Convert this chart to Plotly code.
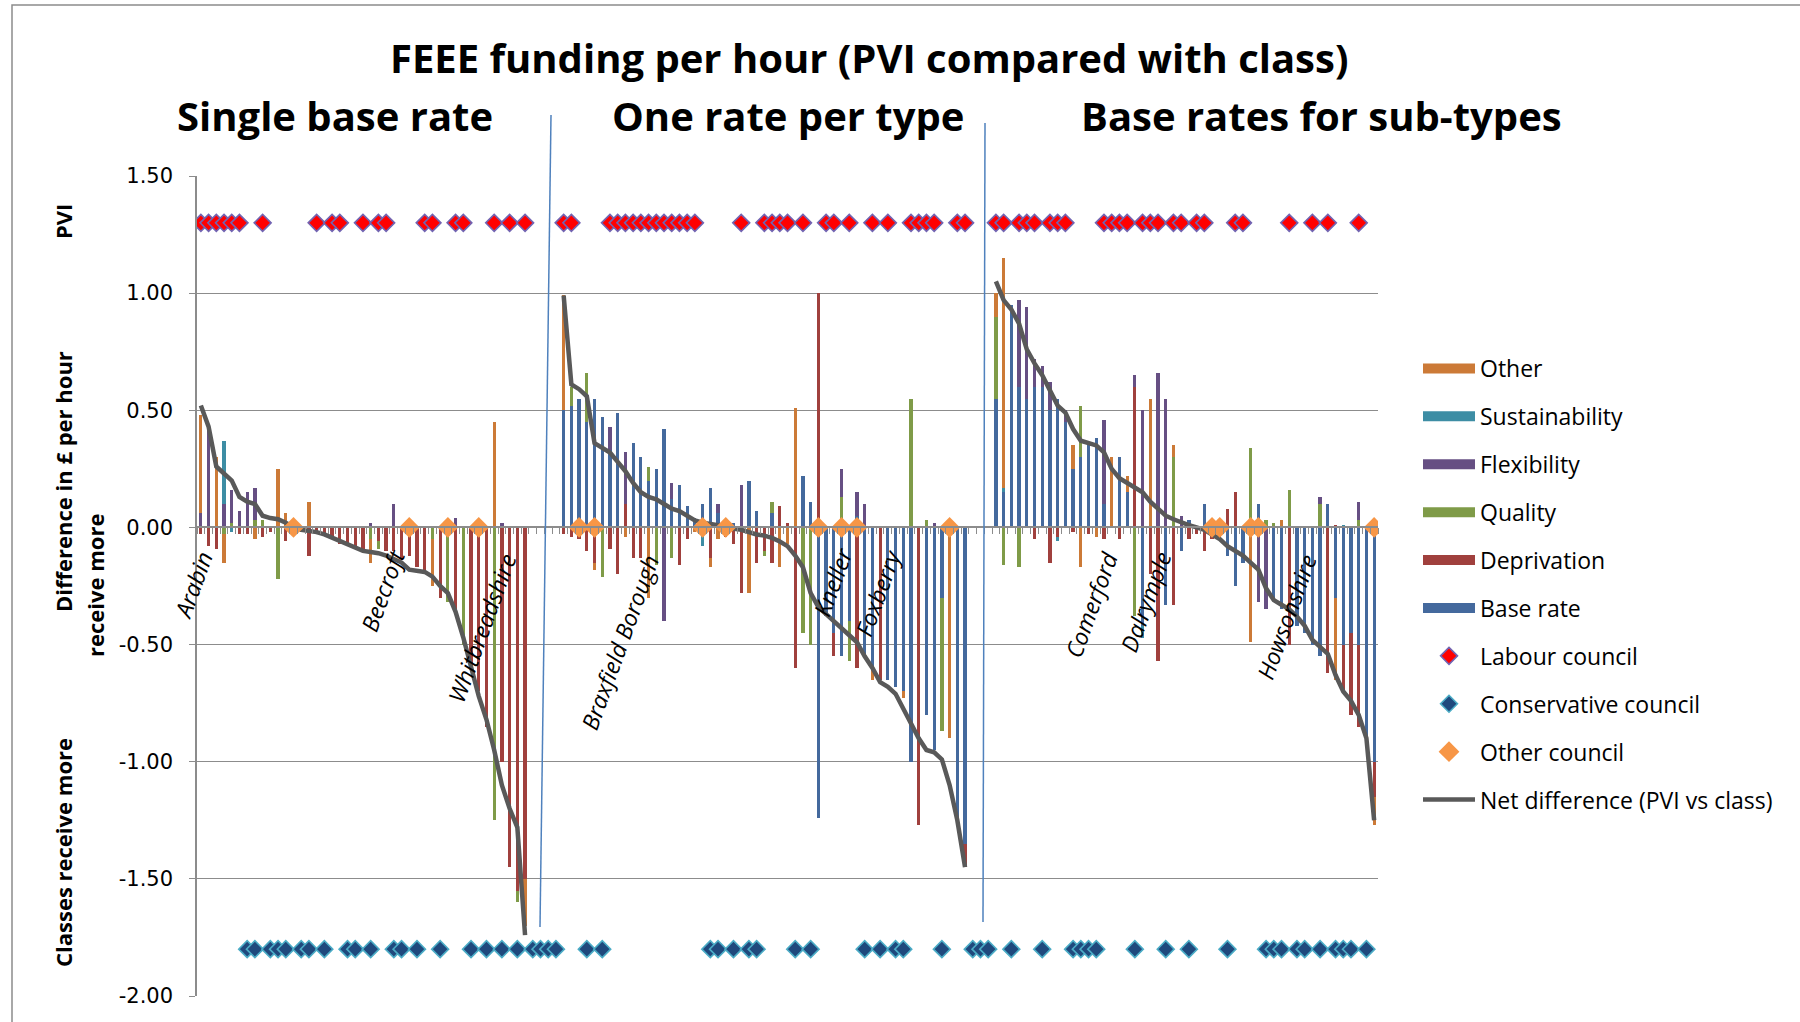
import plotly.graph_objects as go

# ---------------- data ----------------
# Panel 1: "Single base rate" (43 councils), Panel 2: "One rate per type" (53), Panel 3: "Base rates for sub-types" (50)
GAP1 = 4
GAP2 = 3

P1_BASE = [0.0] * 43
P1_DEP = [-.03, -.08, -.09, 0, 0, -.03, -.03, 0, -.04, -.02,
          0, -.06, -.01, -.02, -.12, -.03, -.03, -.05, -.07, -.08,
          -.08, -.10, 0, -.06, -.10, -.10, -.13, -.12, -.17, -.19,
          0, -.30, 0, -.35, 0, -.60, -.70, -.85, 0, -1.00,
          -1.45, -1.55, -1.50]
P1_QUAL = [0, 0, 0, -.03, .02, 0, 0, .03, .03, 0,
           -.22, 0, 0, 0, 0, 0, 0, 0, 0, 0,
           0, 0, -.05, -.03, 0, 0, 0, 0, 0, 0,
           -.05, 0, -.32, 0, -.50, 0, 0, 0, -1.25, 0,
           0, -.05, 0]
P1_FLEX = [.06, .43, 0, .10, .14, .07, .15, .14, 0, 0,
           0, 0, 0, 0, 0, 0, 0, 0, 0, 0,
           0, 0, .02, 0, 0, .10, 0, 0, 0, 0,
           0, 0, 0, .04, 0, 0, 0, 0, 0, .02,
           0, 0, 0]
P1_SUST = [0, 0, 0, .27, -.02, 0, 0, 0, 0, 0,
           0, 0, 0, 0, 0, 0, 0, 0, 0, 0,
           0, 0, 0, 0, 0, 0, 0, 0, 0, 0,
           0, 0, 0, 0, 0, 0, 0, 0, 0, 0,
           0, 0, 0]
P1_OTHER = [.42, 0, .30, -.12, 0, 0, 0, -.05, 0, 0,
            .25, .06, 0, 0, .11, 0, 0, 0, 0, 0,
            0, 0, -.10, 0, 0, 0, 0, 0, 0, 0,
            -.20, 0, 0, 0, 0, 0, 0, 0, .45, 0,
            0, 0, -.20]
P1_NET = [.52, .43, .26, .23, .20, .13, .11, .10, .05, .04,
          .035, .02, 0, -.01, -.015, -.02, -.03, -.045, -.055, -.07,
          -.09, -.10, -.105, -.11, -.12, -.135, -.15, -.18, -.185, -.19,
          -.21, -.25, -.28, -.36, -.47, -.60, -.72, -.82, -.95, -1.10,
          -1.20, -1.28, -1.74]

P2_BASE = [.50, .52, .55, .45, .55, .47, .33, .49, 0, .36,
           .30, .20, .25, .42, .12, .18, .09, .04, .10, .17,
           .06, .03, .02, 0, .20, .07, 0, .06, 0, 0,
           0, .22, .11, -1.24, -.38, -.45, -.55, -.40, .05, -.55,
           -.60, 0, -.65, -.68, -.70, -1.00, 0, -.80, -.95, -.30,
           0, -1.25, -1.35]
P2_DEP = [-.03, -.04, -.05, -.10, -.15, 0, -.09, -.20, .10, -.13,
          -.13, 0, 0, 0, 0, -.16, -.05, 0, -.03, -.13,
          0, -.04, -.07, -.28, 0, -.15, -.10, -.15, .09, .02,
          -.60, 0, 0, 1.00, 0, -.10, 0, 0, -.60, 0,
          0, -.65, 0, 0, 0, 0, -1.27, 0, 0, 0,
          0, 0, -.10]
P2_QUAL = [0, .08, 0, .21, 0, -.21, 0, 0, 0, 0,
           0, .06, -.16, 0, -.13, 0, 0, 0, 0, 0,
           0, 0, 0, 0, 0, 0, -.02, .05, 0, 0,
           0, -.45, -.50, 0, 0, 0, .13, -.17, 0, 0,
           0, 0, 0, 0, 0, .55, 0, .03, 0, -.57,
           0, 0, 0]
P2_FLEX = [0, 0, 0, 0, 0, 0, .10, 0, .22, 0,
           0, 0, 0, -.40, .07, 0, 0, 0, 0, 0,
           .04, 0, 0, .18, 0, 0, 0, 0, 0, 0,
           0, 0, 0, 0, 0, 0, .12, 0, .10, .10,
           0, 0, 0, 0, 0, 0, 0, 0, .02, 0,
           0, 0, 0]
P2_SUST = [0, 0, 0, 0, 0, 0, 0, 0, 0, 0,
           0, 0, 0, 0, 0, 0, 0, 0, -.05, 0,
           0, 0, 0, 0, 0, 0, 0, 0, 0, 0,
           0, 0, 0, 0, 0, 0, 0, 0, 0, 0,
           0, 0, 0, 0, 0, 0, 0, 0, 0, 0,
           0, 0, 0]
P2_OTHER = [.49, 0, 0, 0, -.03, 0, 0, 0, -.04, 0,
            0, -.30, 0, 0, 0, 0, 0, -.02, 0, -.04,
            -.05, 0, 0, 0, -.28, 0, 0, 0, -.17, -.07,
            .51, 0, 0, 0, 0, 0, 0, 0, 0, 0,
            -.05, 0, 0, 0, -.03, 0, 0, 0, 0, 0,
            -.90, 0, 0]
P2_NET = [.99, .61, .59, .56, .36, .34, .32, .28, .24, .19,
          .15, .13, .12, .10, .08, .07, .05, .03, .02, .015,
          .01, 0, -.005, -.01, -.02, -.03, -.035, -.045, -.06, -.08,
          -.12, -.17, -.28, -.34, -.37, -.40, -.43, -.46, -.49, -.55,
          -.60, -.66, -.68, -.71, -.77, -.83, -.90, -.95, -.96, -.99,
          -1.10, -1.25, -1.45]

P3_BASE = [.55, .15, .95, .60, .55, .60, .60, .50, .55, .45,
           .25, .30, .35, .38, .10, 0, .30, .15, 0, -.42,
           0, 0, -.33, 0, -.10, .03, 0, .10, 0, 0,
           -.12, -.25, -.15, 0, .10, 0, -.30, -.35, 0, -.42,
           -.45, -.50, -.55, .10, -.30, -.50, -.45, -.50, -.90, -1.00]
P3_DEP = [0, 0, 0, 0, 0, -.05, 0, -.15, -.04, 0,
          -.02, 0, -.03, 0, -.05, 0, -.05, 0, .60, 0,
          -.20, -.57, 0, -.33, 0, -.05, -.03, -.10, -.05, -.04,
          .08, .15, 0, 0, 0, 0, 0, 0, -.50, 0,
          0, 0, 0, -.62, .01, -.20, -.35, -.35, 0, -.15]
P3_QUAL = [.35, -.16, 0, -.17, 0, 0, 0, 0, 0, 0,
           0, .22, 0, 0, 0, 0, 0, 0, -.38, 0,
           0, 0, 0, .30, 0, 0, 0, 0, 0, 0,
           0, 0, 0, .34, 0, .03, .02, 0, .16, 0,
           0, 0, .10, 0, 0, 0, 0, .03, 0, 0]
P3_FLEX = [0, 0, 0, .37, .39, .12, .09, .12, 0, .05,
           0, 0, 0, 0, .36, 0, 0, 0, .05, .50,
           0, .66, .55, 0, .05, 0, 0, 0, 0, 0,
           0, 0, 0, 0, -.32, -.35, 0, 0, 0, 0,
           0, 0, .03, 0, 0, 0, 0, .08, 0, 0]
P3_SUST = [0, .02, 0, 0, 0, 0, 0, 0, -.02, 0,
           0, 0, 0, 0, 0, 0, 0, 0, 0, -.05,
           0, 0, 0, 0, 0, 0, 0, 0, 0, 0,
           0, 0, 0, 0, 0, 0, 0, 0, 0, 0,
           0, 0, 0, 0, 0, .01, 0, 0, 0, 0]
P3_OTHER = [.10, .98, 0, 0, 0, 0, 0, 0, 0, 0,
            .10, -.17, 0, -.04, 0, .30, 0, .07, 0, 0,
            .55, 0, 0, .05, 0, 0, 0, 0, 0, 0,
            0, 0, 0, -.49, 0, 0, 0, .03, 0, 0,
            0, 0, 0, 0, -.35, 0, 0, 0, 0, -.12]
P3_NET = [1.05, .97, .93, .87, .76, .70, .65, .58, .52, .49,
          .42, .37, .36, .35, .32, .25, .21, .19, .17, .15,
          .11, .08, .05, .035, .02, .01, 0, -.01, -.03, -.05,
          -.08, -.10, -.12, -.15, -.18, -.26, -.31, -.33, -.35, -.38,
          -.42, -.48, -.51, -.54, -.63, -.70, -.74, -.80, -.90, -1.25]

# council control per category (L = Labour, C = Conservative, O = other)
PARTY = ("LLLLLLCCLC" "CCOCCLCLLC" "CLCLLCCOCL" "LCOLLCOCLC" "LCLCCCCLLO"
         "COCLLLLLLL" "LLLLLOCCOC" "LCCLLLLCLC" "OLLOLOCLCL" "CCLLLLCOLL"
         "CCCLLCLLLC" "LLLCCCCLLL" "LCLLLCLLCL" "LOOCLLOOCC" "CLCCLCLCCC" "LCO")
PARTY_Y = {"L": 1.3, "C": -1.8, "O": 0.0}

# labelled councils: (name, category index, y position of label)
LABELS = [("Arabin", 0, -0.245), ("Beecroft", 23.5, -0.27), ("Whitbreadshire", 36.4, -0.43),
          ("Braxfield Borough", 54.3, -0.49), ("Kneller", 81.9, -0.235), ("Foxberry", 87.7, -0.28),
          ("Comerford", 115.3, -0.33), ("Dalrymple", 122.4, -0.32), ("Howsonshire", 140.7, -0.38)]

Y_TICKS = [-2.0, -1.5, -1.0, -0.5, 0.0, 0.5, 1.0, 1.5]
Y_TICKTEXT = ["-2.00", "-1.50", "-1.00", "-0.50", "0.00", "0.50", "1.00", "1.50"]

TITLE = "FEEE funding per hour (PVI compared with class)"
PANEL_TITLES = ["Single base rate", "One rate per type", "Base rates for sub-types"]

# ---------------- build ----------------
def join(a, b, c):
    return list(a) + [None] * GAP1 + list(b) + [None] * GAP2 + list(c)

base = join(P1_BASE, P2_BASE, P3_BASE)
dep = join(P1_DEP, P2_DEP, P3_DEP)
qual = join(P1_QUAL, P2_QUAL, P3_QUAL)
flex = join(P1_FLEX, P2_FLEX, P3_FLEX)
sust = join(P1_SUST, P2_SUST, P3_SUST)
other = join(P1_OTHER, P2_OTHER, P3_OTHER)
net = join(P1_NET, P2_NET, P3_NET)
n = len(PARTY)
x = list(range(n))

BAR_SERIES = [("Base rate", base, "#44699D", 6), ("Deprivation", dep, "#A0403D", 5),
              ("Quality", qual, "#7F9B48", 4), ("Flexibility", flex, "#664F83", 3),
              ("Sustainability", sust, "#3D8DA4", 2), ("Other", other, "#CC7A37", 1)]

FONT = "Open Sans"

fig = go.Figure()
for name, vals, col, rank in BAR_SERIES:
    fig.add_trace(go.Bar(x=x, y=vals, name=name, marker=dict(color=col, line=dict(width=0)),
                         width=0.42, showlegend=False, hoverinfo="x+y+name"))
# legend swatches for bar series
for name, vals, col, rank in BAR_SERIES:
    fig.add_trace(go.Scatter(x=[None], y=[None], mode="lines", name=name,
                             line=dict(color=col, width=14), legendrank=rank,
                             legendgroup=name))

fig.add_trace(go.Scatter(x=x, y=net, mode="lines", name="Net difference (PVI vs class)",
                         line=dict(color="#595959", width=4.5), connectgaps=False,
                         legendrank=10, legendgroup="net"))

MARKERS = [("L", "Labour council", dict(symbol="diamond", size=13, color="#FF0000",
                                          line=dict(color="#7264B2", width=1.6)), 7),
           ("C", "Conservative council", dict(symbol="diamond", size=13, color="#1F497D",
                                                line=dict(color="#4BACC6", width=1.6)), 8),
           ("O", "Other council", dict(symbol="diamond", size=16, color="#F79646",
                                         line=dict(color="#F79646", width=0)), 9)]
for code, name, mk, rank in MARKERS:
    ys = [PARTY_Y[code] if p == code else None for p in PARTY]
    fig.add_trace(go.Scatter(x=x, y=ys, mode="markers", name=name, marker=mk,
                             legendrank=rank, legendgroup=name))

# ---------------- layout ----------------
L, R, T, B = 197, 422, 176, 26
W, H = 1800, 1022
PW, PH = W - L - R, H - T - B

def px_x(p):
    return (p - L) / PW

def px_y(p):
    return (H - B - p) / PH

fig.update_layout(
    width=W, height=H,
    margin=dict(l=L, r=R, t=T, b=B, autoexpand=False),
    paper_bgcolor="white", plot_bgcolor="white",
    barmode="relative", bargap=0,
    font=dict(family=FONT, color="black"),
    legend=dict(x=px_x(1418), y=px_y(347), xanchor="left", yanchor="top",
                font=dict(family=FONT, size=23, color="black"),
                tracegroupgap=15, itemwidth=52, bgcolor="rgba(0,0,0,0)"),
    showlegend=True,
)

fig.update_xaxes(range=[-0.5, n - 0.5], showgrid=False, zeroline=False, showticklabels=False,
                 anchor="free", position=2 / 3.5, showline=True, linecolor="#8C8C8C", linewidth=1.5,
                 ticks="outside", tickvals=[k - 0.5 for k in range(n + 1)], ticklen=6,
                 tickcolor="#8C8C8C", tickwidth=1.2)
fig.update_yaxes(range=[-2, 1.5], tickvals=Y_TICKS, ticktext=Y_TICKTEXT, showgrid=True,
                 gridcolor="#8C8C8C", gridwidth=1.2, zeroline=False, showline=True,
                 linecolor="#8C8C8C", linewidth=1.5, ticks="outside", ticklen=6,
                 tickcolor="#8C8C8C", ticklabelstandoff=12,
                 tickfont=dict(family="DejaVu Sans", size=21, color="black"))

ann = []
ann.append(dict(text=TITLE, x=px_x(869), y=px_y(57), xref="paper", yref="paper",
                showarrow=False, xanchor="center", yanchor="middle",
                font=dict(family=FONT, size=40, weight="bold", color="black")))
for t, cx in zip(PANEL_TITLES, [335, 788, 1321]):
    ann.append(dict(text=t, x=px_x(cx), y=px_y(116), xref="paper", yref="paper",
                    showarrow=False, xanchor="center", yanchor="middle",
                    font=dict(family=FONT, size=40, weight="bold", color="black")))
for t, cx, cy in [("PVI", 63, 222), ("Difference in £ per hour", 63, 482),
                  ("receive more", 95, 586), ("Classes receive more", 63, 853)]:
    ann.append(dict(text=t, x=px_x(cx), y=px_y(cy), xref="paper", yref="paper",
                    showarrow=False, xanchor="center", yanchor="middle", textangle=-90,
                    font=dict(family=FONT, size=22, weight="bold", color="black")))
for name, xi, yv in LABELS:
    a = dict(text=name, x=xi, y=yv, xref="x", yref="y", showarrow=False,
             xanchor="center", yanchor="middle", textangle=-70,
             font=dict(family=FONT, size=23, style="italic", color="black"))
    if name == "Arabin":
        a["xshift"] = -8
    ann.append(a)
fig.update_layout(annotations=ann)

shapes = [
    dict(type="rect", xref="paper", yref="paper", x0=px_x(12), x1=1.6, y0=-0.5, y1=px_y(5),
         line=dict(color="#8C8C8C", width=1.5), fillcolor="rgba(0,0,0,0)"),
    dict(type="line", xref="paper", yref="paper", x0=px_x(551), y0=px_y(115), x1=px_x(540), y1=px_y(927),
         line=dict(color="#4F81BD", width=1.5)),
    dict(type="line", xref="paper", yref="paper", x0=px_x(985), y0=px_y(123), x1=px_x(983), y1=px_y(922),
         line=dict(color="#4F81BD", width=1.5)),
]
fig.update_layout(shapes=shapes)

fig.write_html("out.html", config={"displayModeBar": False},
               post_script="document.body.style.margin='0';")
